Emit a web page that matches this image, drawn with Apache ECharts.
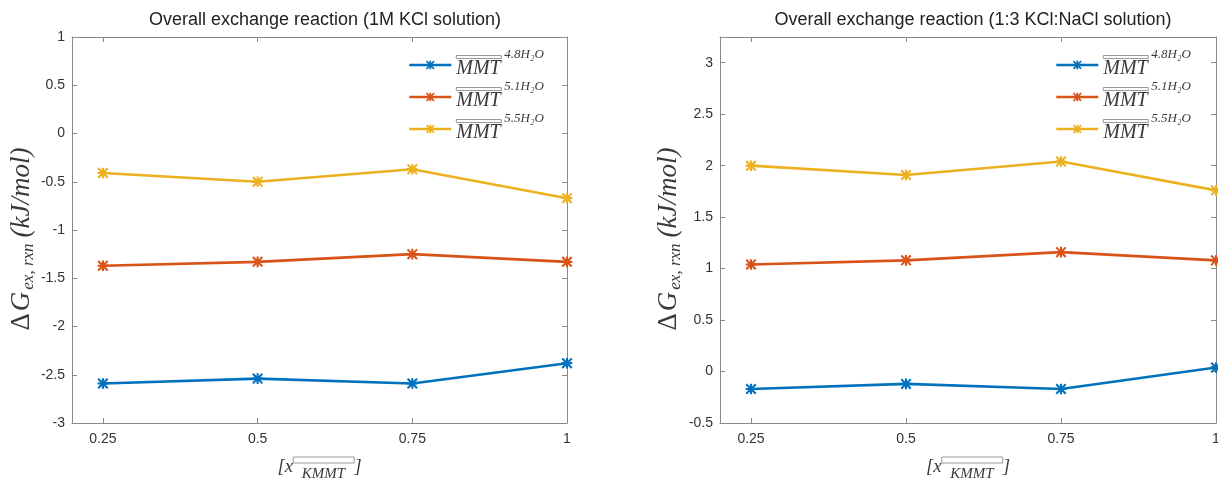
<!DOCTYPE html>
<html>
<head>
<meta charset="utf-8">
<script src="https://cdn.jsdelivr.net/npm/echarts@6/dist/echarts.min.js"></script>
<style>html,body{margin:0;padding:0;background:#fff}#c{width:1218px;height:479px}</style>
</head>
<body>
<div id="c"></div>
<script>
// ---- data ----
var xValues = [0.25, 0.5, 0.75, 1];
var xTickLabels = ['0.25', '0.5', '0.75', '1'];
var seriesNames = ['4.8', '5.1', '5.5'];
var kcl_48 = [-2.59, -2.54, -2.59, -2.38];
var kcl_51 = [-1.37, -1.33, -1.25, -1.33];
var kcl_55 = [-0.41, -0.50, -0.37, -0.67];
var mix_48 = [-0.17, -0.12, -0.17, 0.04];
var mix_51 = [1.04, 1.08, 1.16, 1.08];
var mix_55 = [2.00, 1.91, 2.04, 1.76];
var leftYTicks = [-3, -2.5, -2, -1.5, -1, -0.5, 0, 0.5, 1];
var rightYTicks = [-0.5, 0, 0.5, 1, 1.5, 2, 2.5, 3];
var titles = ['Overall exchange reaction (1M KCl solution)', 'Overall exchange reaction (1:3 KCl:NaCl solution)'];

var colors = ['#0072BD', '#D95319', '#EDB120'];
var star = 'path://M0,4H10V6H0Z M4,0H6V10H4Z M1.2,-0.2L10.2,8.8L8.8,10.2L-0.2,1.2Z M10.2,1.2L1.2,10.2L-0.2,8.8L8.8,-0.2Z';

function pairs(arr) { return xValues.map(function (x, i) { return [x, arr[i]]; }); }

var axisColor = '#8a8a8a';
var labelColor = '#333';
var txt = '#3a3a3a';
var barColor = '#9a9a9a';
var serif = 'Liberation Serif';

function xAxes(gi) {
  return [{
    type: 'value', gridIndex: gi, min: 0.2, max: 1, position: 'bottom',
    axisLine: { show: true, onZero: false, lineStyle: { color: axisColor, width: 1 } },
    axisTick: { show: true, inside: true, length: 5, customValues: xValues, lineStyle: { color: axisColor } },
    axisLabel: { customValues: xValues, color: labelColor, fontFamily: 'Liberation Sans', fontSize: 14, margin: 9,
      formatter: function (v) { var i = xValues.indexOf(v); return i >= 0 ? xTickLabels[i] : ''; } },
    splitLine: { show: false },
    name: '{t|[x}{b|}{t|]}\n{k|KMMT}', nameLocation: 'middle', nameGap: 34,
    nameTextStyle: { rich: {
      t: { fontFamily: serif, fontStyle: 'italic', fontSize: 19, color: txt, lineHeight: 11, verticalAlign: 'top' },
      b: { width: 58, height: 3, borderColor: barColor, borderWidth: 1, lineHeight: 11, verticalAlign: 'top', padding: [3, 0, 0, 3] },
      k: { fontFamily: serif, fontStyle: 'italic', fontSize: 15, color: txt, lineHeight: 12, padding: [0, 0, 0, 8] }
    } }
  }, {
    type: 'value', gridIndex: gi, min: 0.2, max: 1, position: 'top',
    axisLine: { show: true, onZero: false, lineStyle: { color: axisColor, width: 1 } },
    axisTick: { show: true, inside: true, length: 5, customValues: xValues, lineStyle: { color: axisColor } },
    axisLabel: { show: false }, splitLine: { show: false }
  }];
}
function yAxes(gi, min, max, ticks, gap) {
  return [{
    type: 'value', gridIndex: gi, min: min, max: max, position: 'left',
    axisLine: { show: true, onZero: false, lineStyle: { color: axisColor, width: 1 } },
    axisTick: { show: true, inside: true, length: 5, customValues: ticks, lineStyle: { color: axisColor } },
    axisLabel: { customValues: ticks, color: labelColor, fontFamily: 'Liberation Sans', fontSize: 14, margin: 7 },
    splitLine: { show: false },
    name: '{d|\u0394}{g|G}{s|ex, rxn}{t|(kJ/mol)}', nameLocation: 'middle', nameGap: gap, nameRotate: 90,
    nameTextStyle: { padding: [0, 18, 0, 0], rich: {
      d: { fontFamily: serif, fontSize: 27, color: txt, padding: [0, 2, 0, 0] },
      g: { fontFamily: serif, fontStyle: 'italic', fontSize: 27, color: txt },
      s: { fontFamily: serif, fontStyle: 'italic', fontSize: 17, color: txt, padding: [14, 6, 0, 2] },
      t: { fontFamily: serif, fontStyle: 'italic', fontSize: 27, color: txt }
    } }
  }, {
    type: 'value', gridIndex: gi, min: min, max: max, position: 'right',
    axisLine: { show: true, onZero: false, lineStyle: { color: axisColor, width: 1 } },
    axisTick: { show: true, inside: true, length: 5, customValues: ticks, lineStyle: { color: axisColor } },
    axisLabel: { show: false }, splitLine: { show: false }
  }];
}

var leftData = [kcl_48, kcl_51, kcl_55];
var rightData = [mix_48, mix_51, mix_55];
var series = [];
[leftData, rightData].forEach(function (set, gi) {
  set.forEach(function (arr, k) {
    series.push({
      name: (gi === 0 ? 'L' : 'R') + seriesNames[k], type: 'line',
      xAxisIndex: gi * 2, yAxisIndex: gi * 2,
      data: pairs(arr), symbol: star, symbolSize: 11, showAllSymbol: true,
      lineStyle: { color: colors[k], width: 2.6 }, itemStyle: { color: colors[k] },
      clip: false, animation: false
    });
  });
});

function legendFor(prefix, left) {
  return {
    left: left, top: 43, orient: 'vertical', itemGap: 1, itemWidth: 42, itemHeight: 11,
    data: seriesNames.map(function (n) { return prefix + n; }),
    formatter: function (name) { return '{b|}{p|' + name.slice(1) + 'H\u2082O}\n{m|MMT}'; },
    lineStyle: { width: 2.6 },
    textStyle: { rich: {
      b: { width: 44, height: 3, borderColor: barColor, borderWidth: 1, lineHeight: 8, verticalAlign: 'bottom', padding: [0, 0, 0, 1] },
      p: { fontFamily: serif, fontStyle: 'italic', fontSize: 13, color: txt, lineHeight: 8, verticalAlign: 'middle', padding: [0, 0, 0, 3] },
      m: { fontFamily: serif, fontStyle: 'italic', fontSize: 20, color: txt, lineHeight: 21 }
    } },
    selectedMode: false
  };
}

var chart = echarts.init(document.getElementById('c'), null, { renderer: 'canvas' });
chart.setOption({
  animation: false,
  backgroundColor: '#fff',
  title: [
    { text: titles[0], left: 320, top: 6, textAlign: 'center', textStyle: { fontFamily: 'Liberation Sans', fontWeight: 'normal', fontSize: 18, color: '#222' } },
    { text: titles[1], left: 968, top: 6, textAlign: 'center', textStyle: { fontFamily: 'Liberation Sans', fontWeight: 'normal', fontSize: 18, color: '#222' } }
  ],
  grid: [
    { left: 72, top: 37, width: 495, height: 386, outerBoundsMode: 'none', containLabel: false },
    { left: 720, top: 37, width: 496, height: 386, outerBoundsMode: 'none', containLabel: false }
  ],
  legend: [legendFor('L', 403), legendFor('R', 1050)],
  xAxis: xAxes(0).concat(xAxes(1)),
  yAxis: yAxes(0, -3, 1, leftYTicks, 33).concat(yAxes(1, -0.5, 3.25, rightYTicks, 36)),
  series: series
});
</script>
</body>
</html>
